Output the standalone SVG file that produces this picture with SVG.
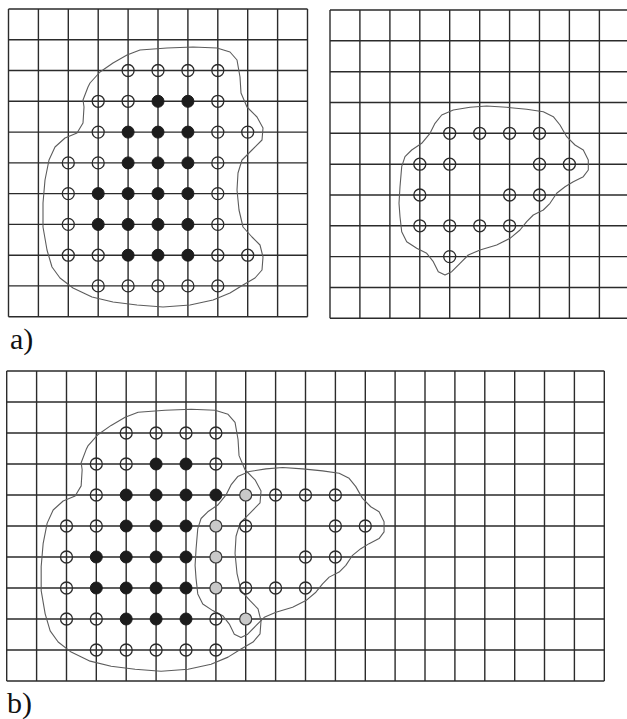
<svg xmlns="http://www.w3.org/2000/svg" width="627" height="719" viewBox="0 0 627 719">
<style>
.g{stroke:#2b2b2b;stroke-width:1.4;fill:none}
.blob{stroke:#5c5c5c;stroke-width:1.1;fill:none;stroke-linejoin:round;stroke-linecap:round}
.o{fill:none;stroke:#2b2b2b;stroke-width:1.3}
.f{fill:#1c1c1c;stroke:#1c1c1c;stroke-width:1}
.s{fill:#c9c9c9;stroke:#3a3a3a;stroke-width:1.2}
.lbl{font-family:"Liberation Serif","Times New Roman",serif;font-size:30px;fill:#111}
</style>
<defs>
<path id="blobL" class="blob" d="M88 87 L90 83 L100 72 L113 63 L127 55 L140 50 L167 48 L193 47 L217 48 L230 52 L237 60 L240 77 L241 93 L247 107 L257 117 L263 128 L262 140 L252 150 L242 160 L238 173 L237 190 L239 210 L243 227 L252 237 L260 245 L263 257 L262 270 L255 278 L243 285 L230 293 L213 300 L190 305 L163 307 L137 305 L113 302 L92 297 L73 288 L60 278 L52 267 L47 250 L43 227 L43 203 L45 180 L49 160 L55 147 L65 138 L77 133 L83 123 L84 107 L83 100 Z"/>
<path id="blobR" class="blob" d="M435 123.3 L441.7 115 L453.3 110 L470 107.3 L486.7 106 L506.7 107.3 L526.7 109.3 L543.3 111.7 L553.3 116.7 L560 125 L566.7 136.7 L575 145 L583.3 150 L588.3 160 L588.3 170 L583.3 176.7 L573.3 181.7 L565 186.7 L556.7 193.3 L550 203.3 L543.3 210 L533.3 215 L526.7 221.7 L520 230 L510 238.3 L496.7 245 L480 250 L468.3 255 L460 263.3 L451.7 271.7 L445 275 L438.3 271.7 L433.3 261.7 L426.7 253.3 L416.7 248.3 L406.7 241.7 L401.7 231.7 L400 216.7 L399 203.3 L400 186.7 L401.7 166.7 L405 156.7 L411.7 150 L421.7 143.3 L430 133.3 Z"/>
</defs>
<rect width="627" height="719" fill="#fff"/>

<g id="panel-a-left">
<path class="g" d="M8.5 9V316.7M38.4 9V316.7M68.3 9V316.7M98.2 9V316.7M128.1 9V316.7M158 9V316.7M187.9 9V316.7M217.8 9V316.7M247.7 9V316.7M277.6 9V316.7M307.5 9V316.7M8.5 9H307.5M8.5 39.8H307.5M8.5 70.5H307.5M8.5 101.3H307.5M8.5 132.1H307.5M8.5 162.9H307.5M8.5 193.6H307.5M8.5 224.4H307.5M8.5 255.2H307.5M8.5 285.9H307.5M8.5 316.7H307.5"/>
<use href="#blobL"/>
<g id="a-left-points">
<circle class="o" cx="128.1" cy="70.5" r="6"/><circle class="o" cx="158" cy="70.5" r="6"/><circle class="o" cx="187.9" cy="70.5" r="6"/><circle class="o" cx="217.8" cy="70.5" r="6"/>
<circle class="o" cx="98.2" cy="101.3" r="6"/><circle class="o" cx="128.1" cy="101.3" r="6"/><circle class="f" cx="158" cy="101.3" r="6"/><circle class="f" cx="187.9" cy="101.3" r="6"/><circle class="o" cx="217.8" cy="101.3" r="6"/>
<circle class="o" cx="98.2" cy="132.1" r="6"/><circle class="f" cx="128.1" cy="132.1" r="6"/><circle class="f" cx="158" cy="132.1" r="6"/><circle class="f" cx="187.9" cy="132.1" r="6"/><circle class="o" cx="217.8" cy="132.1" r="6"/><circle class="o" cx="247.7" cy="132.1" r="6"/>
<circle class="o" cx="68.3" cy="162.9" r="6"/><circle class="o" cx="98.2" cy="162.9" r="6"/><circle class="f" cx="128.1" cy="162.9" r="6"/><circle class="f" cx="158" cy="162.9" r="6"/><circle class="f" cx="187.9" cy="162.9" r="6"/><circle class="o" cx="217.8" cy="162.9" r="6"/>
<circle class="o" cx="68.3" cy="193.6" r="6"/><circle class="f" cx="98.2" cy="193.6" r="6"/><circle class="f" cx="128.1" cy="193.6" r="6"/><circle class="f" cx="158" cy="193.6" r="6"/><circle class="f" cx="187.9" cy="193.6" r="6"/><circle class="o" cx="217.8" cy="193.6" r="6"/>
<circle class="o" cx="68.3" cy="224.4" r="6"/><circle class="f" cx="98.2" cy="224.4" r="6"/><circle class="f" cx="128.1" cy="224.4" r="6"/><circle class="f" cx="158" cy="224.4" r="6"/><circle class="f" cx="187.9" cy="224.4" r="6"/><circle class="o" cx="217.8" cy="224.4" r="6"/>
<circle class="o" cx="68.3" cy="255.2" r="6"/><circle class="o" cx="98.2" cy="255.2" r="6"/><circle class="f" cx="128.1" cy="255.2" r="6"/><circle class="f" cx="158" cy="255.2" r="6"/><circle class="f" cx="187.9" cy="255.2" r="6"/><circle class="o" cx="217.8" cy="255.2" r="6"/><circle class="o" cx="247.7" cy="255.2" r="6"/>
<circle class="o" cx="98.2" cy="285.9" r="6"/><circle class="o" cx="128.1" cy="285.9" r="6"/><circle class="o" cx="158" cy="285.9" r="6"/><circle class="o" cx="187.9" cy="285.9" r="6"/><circle class="o" cx="217.8" cy="285.9" r="6"/>
</g>
</g>

<g id="panel-a-right">
<path class="g" d="M330 10V318.3M359.9 10V318.3M389.9 10V318.3M419.8 10V318.3M449.7 10V318.3M479.7 10V318.3M509.6 10V318.3M539.5 10V318.3M569.4 10V318.3M599.4 10V318.3M629.3 10V318.3M330 10H629.3M330 40.8H629.3M330 71.7H629.3M330 102.5H629.3M330 133.3H629.3M330 164.2H629.3M330 195H629.3M330 225.8H629.3M330 256.6H629.3M330 287.5H629.3M330 318.3H629.3"/>
<use href="#blobR"/>
<g id="a-right-points">
<circle class="o" cx="449.7" cy="133.3" r="6"/><circle class="o" cx="479.7" cy="133.3" r="6"/><circle class="o" cx="509.6" cy="133.3" r="6"/><circle class="o" cx="539.5" cy="133.3" r="6"/>
<circle class="o" cx="419.8" cy="164.2" r="6"/><circle class="o" cx="449.7" cy="164.2" r="6"/><circle class="o" cx="539.5" cy="164.2" r="6"/><circle class="o" cx="569.4" cy="164.2" r="6"/>
<circle class="o" cx="419.8" cy="195" r="6"/><circle class="o" cx="509.6" cy="195" r="6"/><circle class="o" cx="539.5" cy="195" r="6"/>
<circle class="o" cx="419.8" cy="225.8" r="6"/><circle class="o" cx="449.7" cy="225.8" r="6"/><circle class="o" cx="479.7" cy="225.8" r="6"/><circle class="o" cx="509.6" cy="225.8" r="6"/>
<circle class="o" cx="449.7" cy="256.6" r="6"/>
</g>
</g>

<g id="panel-b">
<path class="g" d="M6.7 371V681M36.6 371V681M66.5 371V681M96.3 371V681M126.2 371V681M156.1 371V681M186 371V681M215.9 371V681M245.7 371V681M275.6 371V681M305.5 371V681M335.4 371V681M365.3 371V681M395.1 371V681M425 371V681M454.9 371V681M484.8 371V681M514.7 371V681M544.5 371V681M574.4 371V681M604.3 371V681M6.7 371H604.3M6.7 402H604.3M6.7 433H604.3M6.7 464H604.3M6.7 495H604.3M6.7 526H604.3M6.7 557H604.3M6.7 588H604.3M6.7 619H604.3M6.7 650H604.3M6.7 681H604.3"/>
<use href="#blobL" transform="translate(6.7 371) scale(0.9993 1.0075) translate(-8.5 -9)"/>
<use href="#blobR" transform="translate(126.2 371) scale(0.9983 1.0055) translate(-330 -10)"/>
<g id="b-points">
<circle class="o" cx="126.2" cy="433" r="6"/><circle class="o" cx="156.1" cy="433" r="6"/><circle class="o" cx="186" cy="433" r="6"/><circle class="o" cx="215.9" cy="433" r="6"/>
<circle class="o" cx="96.3" cy="464" r="6"/><circle class="o" cx="126.2" cy="464" r="6"/><circle class="f" cx="156.1" cy="464" r="6"/><circle class="f" cx="186" cy="464" r="6"/><circle class="o" cx="215.9" cy="464" r="6"/>
<circle class="o" cx="96.3" cy="495" r="6"/><circle class="f" cx="126.2" cy="495" r="6"/><circle class="f" cx="156.1" cy="495" r="6"/><circle class="f" cx="186" cy="495" r="6"/><circle class="f" cx="215.9" cy="495" r="6"/><circle class="s" cx="245.7" cy="495" r="6"/><circle class="o" cx="275.6" cy="495" r="6"/><circle class="o" cx="305.5" cy="495" r="6"/><circle class="o" cx="335.4" cy="495" r="6"/>
<circle class="o" cx="66.5" cy="526" r="6"/><circle class="o" cx="96.3" cy="526" r="6"/><circle class="f" cx="126.2" cy="526" r="6"/><circle class="f" cx="156.1" cy="526" r="6"/><circle class="f" cx="186" cy="526" r="6"/><circle class="s" cx="215.9" cy="526" r="6"/><circle class="o" cx="245.7" cy="526" r="6"/><circle class="o" cx="335.4" cy="526" r="6"/><circle class="o" cx="365.3" cy="526" r="6"/>
<circle class="o" cx="66.5" cy="557" r="6"/><circle class="f" cx="96.3" cy="557" r="6"/><circle class="f" cx="126.2" cy="557" r="6"/><circle class="f" cx="156.1" cy="557" r="6"/><circle class="f" cx="186" cy="557" r="6"/><circle class="s" cx="215.9" cy="557" r="6"/><circle class="o" cx="305.5" cy="557" r="6"/><circle class="o" cx="335.4" cy="557" r="6"/>
<circle class="o" cx="66.5" cy="588" r="6"/><circle class="f" cx="96.3" cy="588" r="6"/><circle class="f" cx="126.2" cy="588" r="6"/><circle class="f" cx="156.1" cy="588" r="6"/><circle class="f" cx="186" cy="588" r="6"/><circle class="s" cx="215.9" cy="588" r="6"/><circle class="o" cx="245.7" cy="588" r="6"/><circle class="o" cx="275.6" cy="588" r="6"/><circle class="o" cx="305.5" cy="588" r="6"/>
<circle class="o" cx="66.5" cy="619" r="6"/><circle class="o" cx="96.3" cy="619" r="6"/><circle class="f" cx="126.2" cy="619" r="6"/><circle class="f" cx="156.1" cy="619" r="6"/><circle class="f" cx="186" cy="619" r="6"/><circle class="o" cx="215.9" cy="619" r="6"/><circle class="s" cx="245.7" cy="619" r="6"/>
<circle class="o" cx="96.3" cy="650" r="6"/><circle class="o" cx="126.2" cy="650" r="6"/><circle class="o" cx="156.1" cy="650" r="6"/><circle class="o" cx="186" cy="650" r="6"/><circle class="o" cx="215.9" cy="650" r="6"/>
</g>
</g>

<g id="labels">
<text class="lbl" x="10" y="349">a)</text>
<text class="lbl" x="7" y="713">b)</text>
</g>
</svg>
